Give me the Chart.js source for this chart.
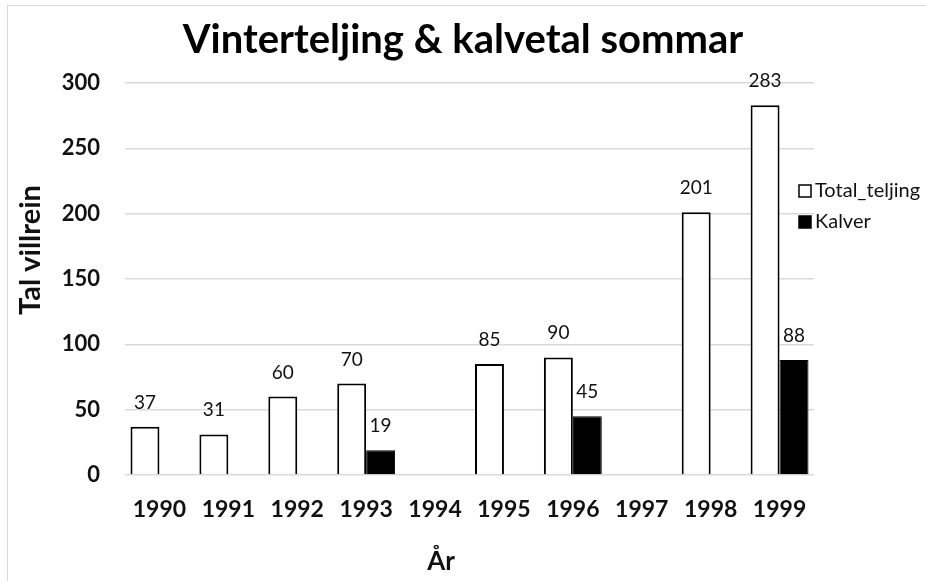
<!DOCTYPE html>
<html lang="nn">
<head>
<meta charset="UTF-8">
<title>Vinterteljing &amp; kalvetal sommar</title>
<script src="https://cdn.jsdelivr.net/npm/chart.js@4.4.0/dist/chart.umd.min.js"></script>
<style>
  body { margin: 0; background: #fff; overflow: hidden; }
  .wrap { position: relative; width: 926px; height: 581px; }
  .frame {
    position: absolute; left: 7px; top: 5px; width: 930px; height: 590px;
    border: 1px solid #d9d9d9; pointer-events: none;
  }
</style>
</head>
<body>
<div class="wrap">
  <canvas id="chart" width="926" height="581"></canvas>
  <div class="frame"></div>
</div>
<script>
// data
const years = ["1990", "1991", "1992", "1993", "1994", "1995", "1996", "1997", "1998", "1999"];
const totalTeljing = [37, 31, 60, 70, null, 85, 90, null, 201, 283];
const kalver = [null, null, null, 19, null, null, 45, null, null, 88];
const yTicks = [0, 50, 100, 150, 200, 250, 300];
const xTitle = "År";
const yTitle = "Tal villrein";

const FONT = "Lato, 'Open Sans', sans-serif";
const TEXT = "#111";

// value labels over the bars
const valueLabels = {
  id: "valueLabels",
  afterDatasetsDraw(chart) {
    const ctx = chart.ctx;
    ctx.save();
    ctx.font = "19px " + FONT;
    ctx.fillStyle = TEXT;
    ctx.textAlign = "center";
    ctx.textBaseline = "alphabetic";
    chart.data.datasets.forEach((ds, i) => {
      chart.getDatasetMeta(i).data.forEach((bar, j) => {
        const v = ds.data[j];
        if (v == null) return;
        ctx.fillText(String(v), bar.x, bar.y - 18);
      });
    });
    ctx.restore();
  }
};

// legend + axis titles, placed like the Excel original
const sideBits = {
  id: "sideBits",
  afterDraw(chart) {
    const ctx = chart.ctx;
    const a = chart.chartArea;
    ctx.save();
    ctx.font = "20px " + FONT;
    ctx.textBaseline = "middle";
    ctx.textAlign = "left";
    chart.data.datasets.forEach((ds, i) => {
      const cy = a.top + 108 + i * 31;
      const bx = a.right - 15;
      ctx.fillStyle = ds.backgroundColor;
      ctx.fillRect(bx, cy - 6, 12, 12);
      ctx.strokeStyle = "#000";
      ctx.lineWidth = 1.5;
      ctx.strokeRect(bx, cy - 6, 12, 12);
      ctx.fillStyle = TEXT;
      ctx.fillText(ds.label, bx + 16, cy);
    });

    // x title
    ctx.font = "bold 26px " + FONT;
    ctx.textAlign = "center";
    ctx.textBaseline = "alphabetic";
    ctx.fillText(xTitle, a.left + 316, a.bottom + 95);

    // y title
    ctx.font = "bold 29px " + FONT;
    ctx.textBaseline = "middle";
    ctx.translate(31, a.top + 167);
    ctx.rotate(-Math.PI / 2);
    ctx.fillText(yTitle, 0, 0);
    ctx.restore();
  }
};

new Chart(document.getElementById("chart"), {
  type: "bar",
  data: {
    labels: years,
    datasets: [
      {
        label: "Total_teljing",
        data: totalTeljing,
        backgroundColor: "#ffffff",
        borderColor: "#000000",
        borderWidth: 2,
        categoryPercentage: 0.84,
        barPercentage: 1
      },
      {
        label: "Kalver",
        data: kalver,
        backgroundColor: "#000000",
        borderColor: "#000000",
        borderWidth: 1,
        categoryPercentage: 0.84,
        barPercentage: 1
      }
    ]
  },
  options: {
    responsive: false,
    animation: false,
    layout: { padding: 0 },
    plugins: {
      legend: { display: false },
      tooltip: { enabled: false },
      title: {
        display: true,
        text: "Vinterteljing & kalvetal sommar",
        color: "#000",
        font: { family: FONT, size: 40, weight: "bold" },
        padding: { top: 16, bottom: 19 }
      }
    },
    scales: {
      x: {
        afterFit(scale) { scale.height = 106; },
        grid: { display: false, drawTicks: false },
        border: { display: false },
        ticks: {
          color: TEXT,
          padding: 21,
          font: { family: FONT, size: 23, weight: "bold" }
        }
      },
      y: {
        min: 0,
        max: 300,
        afterFit(scale) { scale.width = 125; },
        afterBuildTicks(scale) {
          scale.ticks = yTicks.map(v => ({ value: v }));
        },
        grid: { color: "#d9d9d9", lineWidth: 1.5, drawTicks: false },
        border: { display: false },
        ticks: {
          color: TEXT,
          padding: 25,
          font: { family: FONT, size: 22, weight: "bold" }
        }
      },
      // empty right-hand room for the legend
      yRight: {
        type: "linear",
        position: "right",
        afterFit(scale) { scale.width = 112; },
        grid: { display: false },
        border: { display: false },
        ticks: { display: false }
      }
    }
  },
  plugins: [valueLabels, sideBits]
});
</script>
</body>
</html>
